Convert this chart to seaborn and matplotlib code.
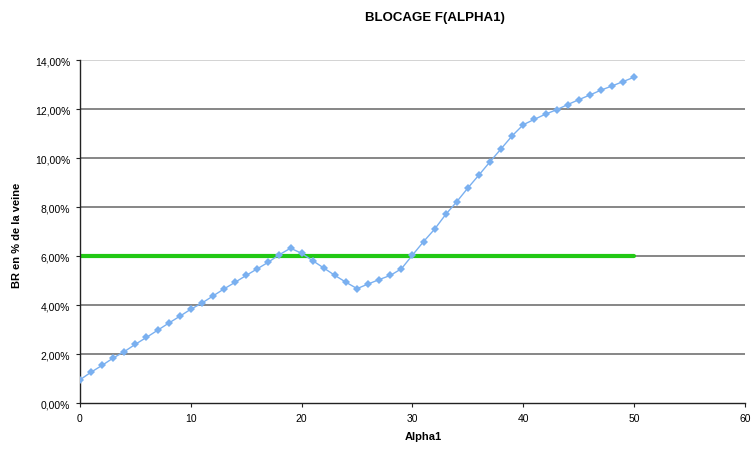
import numpy as np
import pandas as pd
import matplotlib
matplotlib.use("Agg")
import matplotlib.pyplot as plt
from matplotlib.ticker import FuncFormatter, MultipleLocator
import seaborn as sns

# Donnees
alpha1 = list(range(0, 51))
blocage = [0.96, 1.27, 1.55, 1.85, 2.11, 2.41, 2.69, 2.98, 3.27, 3.55,
           3.84, 4.09, 4.38, 4.67, 4.94, 5.22, 5.49, 5.76, 6.07, 6.33,
           6.12, 5.82, 5.52, 5.22, 4.94, 4.68, 4.87, 5.05, 5.22, 5.49,
           6.05, 6.60, 7.11, 7.71, 8.23, 8.79, 9.32, 9.86, 10.39, 10.92,
           11.37, 11.59, 11.80, 11.98, 12.19, 12.39, 12.58, 12.78, 12.95, 13.13,
           13.31]
seuil_x = [0, 50]
seuil_y = [6.0, 6.0]

df = pd.DataFrame({"Alpha1": alpha1, "BR": [v / 100 for v in blocage]})
df_seuil = pd.DataFrame({"Alpha1": seuil_x, "BR": [v / 100 for v in seuil_y]})

sns.set_style("white")
plt.rcParams['font.family'] = ['Liberation Sans', 'DejaVu Sans']
plt.rcParams['text.color'] = "black"
plt.rcParams['xtick.color'] = "black"
plt.rcParams['ytick.color'] = "black"

fig = plt.figure(figsize=(7.53, 4.52), dpi=100)
ax = fig.add_axes([0.1062, 0.1055, 0.8832, 0.759])

# grille horizontale
for yv in np.arange(0.02, 0.141, 0.02):
    ax.axhline(yv, color="#c8c8c8" if yv > 0.13 else "#666666", lw=1.1, zorder=0)

sns.lineplot(data=df_seuil, x="Alpha1", y="BR", color="#22c814", lw=3, ax=ax, zorder=2)
sns.lineplot(data=df, x="Alpha1", y="BR", color="#7ab0f0", lw=1.0,
             marker="D", markersize=4, markeredgewidth=0, ax=ax, zorder=3)

ax.set_xlim(0, 60)
ax.set_ylim(0, 0.14)
ax.xaxis.set_major_locator(MultipleLocator(10))
ax.yaxis.set_major_locator(MultipleLocator(0.02))
ax.yaxis.set_major_formatter(FuncFormatter(lambda v, p: f"{v*100:.2f}%".replace(".", ",")))

for s in ["top", "right"]:
    ax.spines[s].set_visible(False)
for s in ["left", "bottom"]:
    ax.spines[s].set_color("#222222")
    ax.spines[s].set_linewidth(1.0)

ax.tick_params(axis="both", labelsize=7.5, length=3, width=0.8, color="#222222",
               direction="out", left=True, bottom=True, pad=4)
ax.set_xlabel("")
ax.set_ylabel("")

fig.text(435 / 753, 1 - 18 / 452, "BLOCAGE F(ALPHA1)", ha="center", va="center",
         fontsize=9.5, fontweight="bold")
fig.text(423 / 753, 1 - 437 / 452, "Alpha1", ha="center", va="center",
         fontsize=8, fontweight="bold")
fig.text(17 / 753, 1 - 235 / 452, "BR en % de la veine", ha="center", va="center",
         rotation=90, fontsize=8, fontweight="bold")

fig.savefig("out.png", dpi=100)
